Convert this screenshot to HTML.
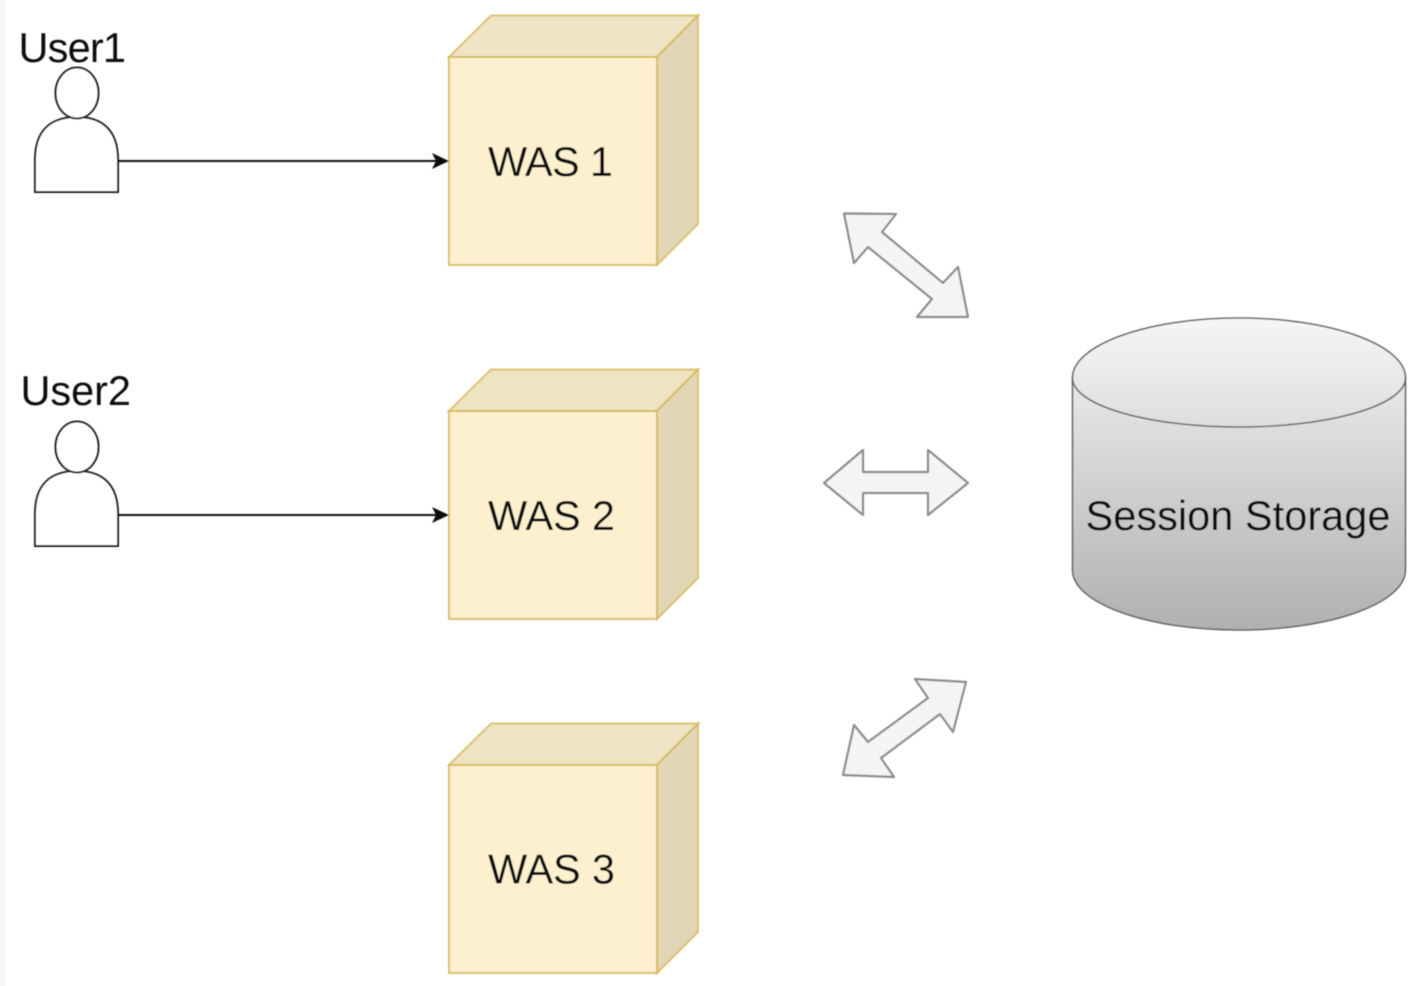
<!DOCTYPE html>
<html>
<head>
<meta charset="utf-8">
<style>
html,body{margin:0;padding:0;background:#fff;width:1414px;height:986px;overflow:hidden}
svg{display:block;position:absolute;left:0;top:0}
text{font-family:"Liberation Sans",sans-serif;font-size:41.5px;fill:#111}
</style>
</head>
<body>
<svg width="1414" height="986" viewBox="0 0 1414 986" xmlns="http://www.w3.org/2000/svg">
<defs>
<linearGradient id="g" x1="0" y1="0" x2="0" y2="1">
<stop offset="0" stop-color="#f6f6f6"/>
<stop offset="1" stop-color="#b0b0b0"/>
</linearGradient>
<filter id="b" x="-5%" y="-5%" width="110%" height="110%"><feGaussianBlur stdDeviation="0.5"/></filter>
<g id="cube">
<polygon points="449,57 491,15.500 698,15.500 657,57" fill="#eee4c3" stroke="#d6b656" stroke-width="2" stroke-opacity=".8"/>
<polygon points="657,57 698,15.500 698,224 657,265" fill="#e1d7b6" stroke="#d6b656" stroke-width="2" stroke-opacity=".8"/>
<rect x="449" y="57" width="208" height="208" fill="#fcf0cf" stroke="#d6b656" stroke-width="2" stroke-opacity=".85"/>
</g>
<g id="person" fill="#fff" stroke="#1a1a1a" stroke-width="2">
<path d="M35,192 L118,192 L118,160 C118,130 102,117 77,117 C51,117 35,130 35,160 Z"/>
<ellipse cx="77" cy="93" rx="21.500" ry="25.500"/>
</g>
</defs>
<rect x="0" y="0" width="5" height="986" fill="#f6f6f6"/>
<g filter="url(#b)">
<use href="#cube"/>
<use href="#cube" y="354"/>
<use href="#cube" y="708"/>
<use href="#person"/>
<use href="#person" y="354"/>
<g stroke="#111" stroke-width="2" fill="none">
<line x1="118" y1="161" x2="436" y2="161"/>
<line x1="118" y1="515" x2="436" y2="515"/>
</g>
<polygon points="449,161 432,153 436,161 432,169" fill="#111"/>
<polygon points="449,515 432,507 436,515 432,523" fill="#111"/>
<g fill="#f4f4f4" stroke="#8c8c8c" stroke-width="2.200" stroke-linejoin="round">
<polygon points="844,213.500 896,214 882,232 943,283 958,267 968,317 917,317 932,299 868,247 854,263"/>
<polygon points="824,483 863,450 863,472 928,472 928,450 968,483 928,515 928,493 863,493 863,515"/>
<polygon points="966,682 953,732 940,714 881,758 894,777 843,775 854,725 868,742 928,698 915,679"/>
</g>
<path d="M1072.500,378 C1072.500,345 1147,318 1239,318 C1331,318 1405.500,345 1405.500,378 L1405.500,570 C1405.500,603 1331,630 1239,630 C1147,630 1072.500,603 1072.500,570 Z" fill="url(#g)" stroke="#666" stroke-width="1.600"/>
<path d="M1072.500,378 C1072.500,405 1147,427 1239,427 C1331,427 1405.500,405 1405.500,378" fill="none" stroke="#666" stroke-width="1.600"/>
<text x="18.500" y="62" textLength="107.500">User1</text>
<text x="20.500" y="405" textLength="110.500">User2</text>
<text x="488" y="176" textLength="125">WAS 1</text>
<text x="488" y="530" textLength="127">WAS 2</text>
<text x="488" y="883.500" textLength="127">WAS 3</text>
<text x="1085.500" y="530" textLength="305">Session Storage</text>
</g>
</svg>
</body>
</html>
